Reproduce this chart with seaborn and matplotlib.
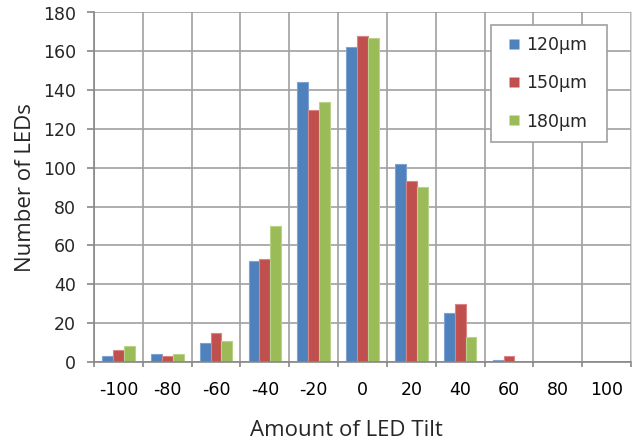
import matplotlib
matplotlib.use("Agg")
import matplotlib.pyplot as plt
import seaborn as sns
import pandas as pd
import numpy as np
from matplotlib.ticker import FixedLocator
from matplotlib.lines import Line2D

tilts = ["-100", "-80", "-60", "-40", "-20", "0", "20", "40", "60", "80", "100"]
s120 = [3, 4, 10, 52, 144, 162, 102, 25, 1, 0, 0]
s150 = [6, 3, 15, 53, 130, 168, 93, 30, 3, 0, 0]
s180 = [8, 4, 11, 70, 134, 167, 90, 13, 0, 0, 0]
series = ["120µm", "150µm", "180µm"]
colors = ["#4F81BD", "#C0504D", "#9BBB59"]
edges = ["#7FA3D3", "#D98583", "#B9D28A"]

rows = []
for name, vals in zip(series, [s120, s150, s180]):
    for t, v in zip(tilts, vals):
        rows.append({"tilt": t, "count": v, "series": name})
df = pd.DataFrame(rows)

sns.set_theme(style="white")
plt.rcParams['font.family'] = ['DejaVu Sans']

fig = plt.figure(figsize=(6.32, 4.44), dpi=100)
ax = fig.add_axes([94/632, 1-362/444, (631-94)/632, (362-12.5)/444])

sns.barplot(data=df, x="tilt", y="count", hue="series", order=tilts,
            hue_order=series, palette=colors, width=0.67, gap=0,
            ax=ax, legend=False, saturation=1)

for cont, ec in zip(ax.containers, edges):
    for p in cont:
        p.set_edgecolor(ec)
        p.set_linewidth(0.8)

ax.set_xlim(-0.5, len(tilts) - 0.5)
ax.set_ylim(0, 180)
ax.set_yticks(np.arange(0, 181, 20))
ax.xaxis.set_minor_locator(FixedLocator(np.arange(-0.5, len(tilts), 1.0)))
ax.tick_params(axis="x", which="major", length=0, labelsize=12.5, pad=14, colors="#000000")
ax.tick_params(axis="x", which="minor", length=3.5, width=1.2, color="#878787", bottom=True)
ax.tick_params(axis="y", which="major", length=5, width=1.2, color="#878787", labelsize=12.5, pad=8, left=True)
ax.grid(True, axis="y", which="major", color="#A0A0A0", linewidth=1.2)
ax.grid(True, axis="x", which="minor", color="#A0A0A0", linewidth=1.2)
ax.grid(False, axis="x", which="major")
ax.set_axisbelow(True)

ax.spines["top"].set_visible(False)
ax.spines["right"].set_color("#D9D9D9")
ax.spines["right"].set_linewidth(1)
ax.spines["left"].set_color("#878787")
ax.spines["left"].set_linewidth(1.2)
ax.spines["bottom"].set_color("#878787")
ax.spines["bottom"].set_linewidth(1.2)

ax.set_xlabel("Amount of LED Tilt", fontsize=16, family=["Open Sans", "DejaVu Sans"])
ax.set_ylabel("Number of LEDs", fontsize=16, labelpad=5, family=["Open Sans", "DejaVu Sans"])
ax.xaxis.set_label_coords((346 - 94) / 537, -(430 - 362) / 349.5)
ax.xaxis.label.set_verticalalignment("center")

handles = [Line2D([], [], linestyle="none", marker="s", markersize=7.7,
                  markerfacecolor=c, markeredgecolor="none") for c in colors]
x0 = (491 - 94) / 537
w = (606.7 - 491) / 537
y1 = (362 - 25) / 349.5
leg = ax.legend(handles, series, loc="upper left", mode="expand",
                bbox_to_anchor=(x0, y1 - 0.3, w, 0.3),
                fontsize=12.5, frameon=True, fancybox=False, handlelength=1.4,
                labelspacing=1.16, borderpad=0.65,
                handletextpad=0.0, borderaxespad=0)
leg.get_frame().set_edgecolor("#A0A0A0")
leg.get_frame().set_linewidth(1.2)
leg.get_frame().set_alpha(1)

fig.savefig("out.png", dpi=100)
